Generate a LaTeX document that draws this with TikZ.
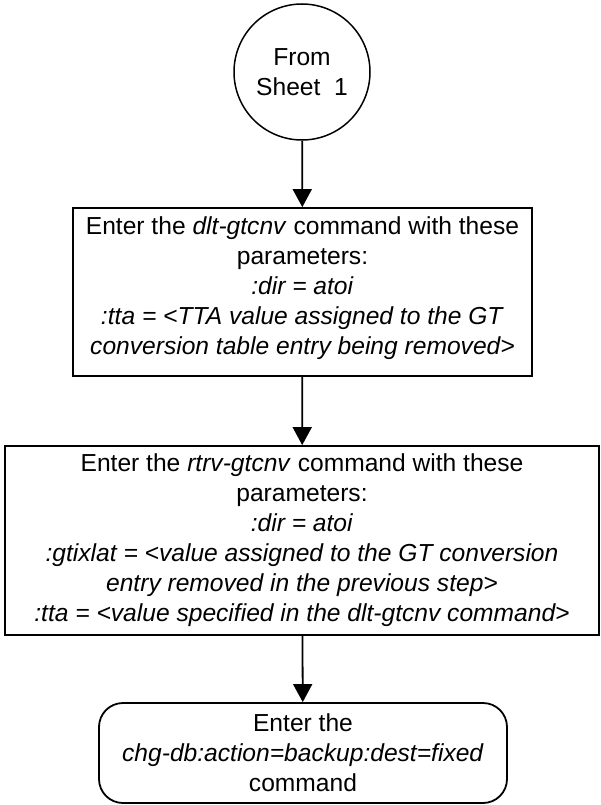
\documentclass[tikz,border=0pt]{standalone}
\usepackage{fontspec}
\setmainfont{Liberation Sans}
\usetikzlibrary{arrows.meta,positioning}
\begin{document}
\begin{tikzpicture}[x=1pt,y=-1pt,
  every node/.style={font=\fontsize{24.6}{30}\selectfont, align=center, inner sep=0pt},
  boxline/.style={draw, line width=1.8pt},
  conn/.style={draw, line width=1.8pt, -{Triangle[length=18pt,width=19pt]}}]
\useasboundingbox (0,0) rectangle (600,805);
\node[boxline, circle, line width=1.5pt, minimum size=136pt] (start) at (302,72) {From\\Sheet\ \ 1};
\node[boxline, minimum width=459pt, minimum height=168pt] (b1) at (302.5,292) {};
\node (t1) at ([yshift=4pt]b1.center)
  {Enter the \textit{dlt-gtcnv} command with these\\parameters:\\\textit{:dir = atoi}\\\textit{:tta = <TTA value assigned to the GT}\\\textit{conversion table entry being removed>}};
\node[boxline, minimum width=594pt, minimum height=189pt] (b2) at (302,540.5)
  {Enter the \textit{rtrv-gtcnv} command with these\\parameters:\\\textit{:dir = atoi}\\\textit{:gtixlat = <value assigned to the GT conversion}\\\textit{entry removed in the previous step>}\\\textit{:tta = <value specified in the dlt-gtcnv command>}};
\node[boxline, rounded corners=24pt, minimum width=408pt, minimum height=100pt] (b3) at (303,753)
  {Enter the\\\textit{chg-db:action=backup:dest=fixed}\\command};
\draw[conn] (start) -- (b1);
\draw[conn] (b1) -- (b2);
\draw[conn] (b2) -- (b3);
\end{tikzpicture}
\end{document}
